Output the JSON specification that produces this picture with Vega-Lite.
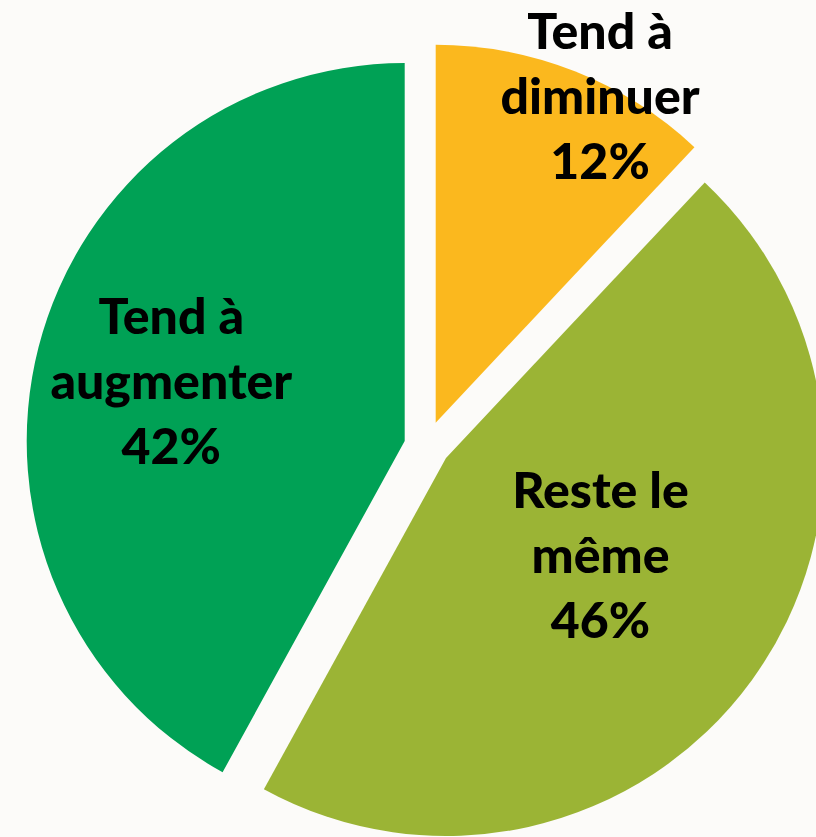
{
  "$schema": "https://vega.github.io/schema/vega-lite/v6.json",
  "autosize": {"type": "none"},
  "width": 778,
  "height": 780,
  "padding": {"left": 38, "top": 57, "right": 0, "bottom": 0},
  "background": "#fcfbf9",
  "config": {"view": {"stroke": null}},
  "data": {
    "values": [
      {"k": 1, "cat": "Tend à diminuer", "value": 12, "label": "Tend à\ndiminuer\n12%"},
      {"k": 2, "cat": "Reste le même", "value": 46, "label": "Reste le\nmême\n46%"},
      {"k": 3, "cat": "Tend à augmenter", "value": 42, "label": "Tend à\naugmenter\n42%"}
    ]
  },
  "transform": [
    {"stack": "value", "groupby": [], "sort": [{"field": "k", "order": "ascending"}], "as": ["v0", "v1"]}
  ],
  "layer": [
    {
      "transform": [{"filter": "datum.k == 1"}],
      "mark": {"type": "arc", "radius": 378, "xOffset": 8.7, "yOffset": -24.3, "color": "#fbb81e"},
      "encoding": {
        "theta": {"field": "v0", "type": "quantitative", "scale": {"domain": [0, 100]}},
        "theta2": {"field": "v1"}
      }
    },
    {
      "transform": [{"filter": "datum.k == 2"}],
      "mark": {"type": "arc", "radius": 378, "xOffset": 19, "yOffset": 11, "color": "#9bb435"},
      "encoding": {
        "theta": {"field": "v0", "type": "quantitative", "scale": {"domain": [0, 100]}},
        "theta2": {"field": "v1"}
      }
    },
    {
      "transform": [{"filter": "datum.k == 3"}],
      "mark": {"type": "arc", "radius": 378, "xOffset": -22.3, "yOffset": -6, "color": "#00a155"},
      "encoding": {
        "theta": {"field": "v0", "type": "quantitative", "scale": {"domain": [0, 100]}},
        "theta2": {"field": "v1"}
      }
    },
    {
      "mark": {"type": "text", "radius": 375, "dx": 35, "dy": -64, "font": "Lato", "fontWeight": 900, "fontSize": 50, "lineHeight": 65, "lineBreak": "\n", "align": "center", "baseline": "middle", "color": "#000000"},
      "encoding": {
        "theta": {"field": "value", "type": "quantitative", "stack": true, "scale": {"domain": [0, 100]}},
        "order": {"field": "k"},
        "text": {"condition": {"test": "datum.k == 1", "field": "label"}, "value": ""}
      }
    },
    {
      "mark": {"type": "text", "radius": 207, "dx": 6, "dy": -76, "font": "Lato", "fontWeight": 900, "fontSize": 50, "lineHeight": 65, "lineBreak": "\n", "align": "center", "baseline": "middle", "color": "#000000"},
      "encoding": {
        "theta": {"field": "value", "type": "quantitative", "stack": true, "scale": {"domain": [0, 100]}},
        "order": {"field": "k"},
        "text": {"condition": {"test": "datum.k == 2", "field": "label"}, "value": ""}
      }
    },
    {
      "mark": {"type": "text", "radius": 264, "dy": -62, "font": "Lato", "fontWeight": 900, "fontSize": 50, "lineHeight": 65, "lineBreak": "\n", "align": "center", "baseline": "middle", "color": "#000000"},
      "encoding": {
        "theta": {"field": "value", "type": "quantitative", "stack": true, "scale": {"domain": [0, 100]}},
        "order": {"field": "k"},
        "text": {"condition": {"test": "datum.k == 3", "field": "label"}, "value": ""}
      }
    }
  ]
}
